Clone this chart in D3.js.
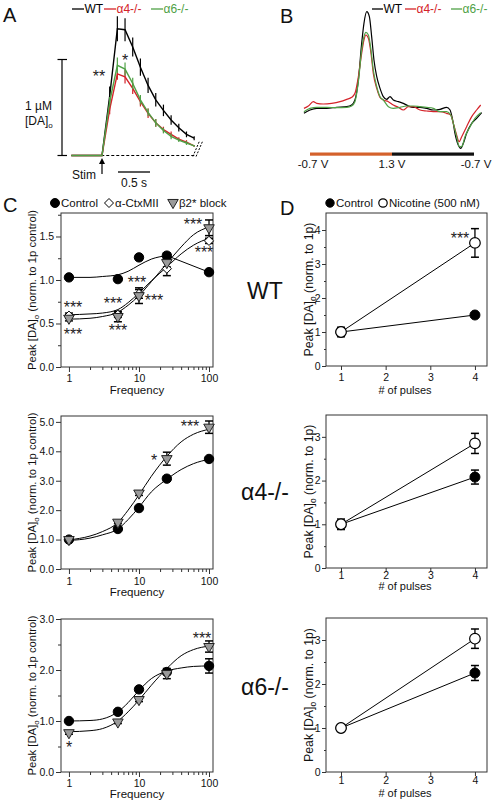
<!DOCTYPE html>
<html><head><meta charset="utf-8">
<script src="https://cdn.jsdelivr.net/npm/d3@7"></script>
<style>
body{margin:0;background:#fff}
svg{display:block}
text{font-family:"Liberation Sans",Arial,Helvetica,sans-serif;fill:#111}
</style></head>
<body><svg id="c" width="492" height="802"></svg>
<script>
// ---------------- DATA ----------------
// Panel A: [DA]o time course (µM) after single stim, 0.12 s samples
const aTime = [-0.48,-0.36,-0.24,-0.12,0,0.12,0.24,0.36,0.48,0.60,0.72,0.84,0.96,1.08,1.20,1.32,1.44];
const aWT    = [0,0,0,0,0,0.62,1.32,1.31,1.13,0.92,0.73,0.58,0.47,0.37,0.29,0.22,0.18];
const aWTerr = [0,0,0,0,0,0.10,0.13,0.12,0.10,0.09,0.08,0.07,0.06,0.05,0.04,0.03,0.02];
const aA4    = [0,0,0,0,0,0.48,0.85,0.82,0.70,0.56,0.44,0.34,0.27,0.22,0.17,0.14,0.10];
const aA4err = [0,0,0,0,0,0.05,0.06,0.07,0.06,0.05,0.05,0.04,0.03,0.03,0.02,0.02,0.01];
const aA6    = [0,0,0,0,0,0.56,0.94,0.90,0.75,0.58,0.45,0.34,0.26,0.20,0.16,0.13,0.10];
const aA6err = [0,0,0,0,0,0.05,0.08,0.07,0.06,0.05,0.04,0.04,0.03,0.03,0.02,0.02,0.01];

// Panel B: cyclic voltammograms (sweep time, ms; current, a.u.)
const bTimeWT = [-0.37,0.0,0.41,1.02,1.63,2.24,2.54,2.74,2.95,3.15,3.29,3.46,3.62,3.76,3.90,4.07,4.27,4.47,4.67,4.88,5.08,5.39,5.69,6.00,6.30,6.71,7.11,7.52,7.93,8.33,8.54,8.70,8.84,9.04,9.19,9.35,9.55,9.86,10.16,10.47];
const bWT     = [-1.5,-0.5,0,0,0.3,0.5,1.0,2.5,8.5,19.5,25.5,29,27.5,21.5,14.5,9.5,6,3.5,2.7,3.5,2.5,2,1.5,0.7,0.3,0.3,0,-0.5,-0.3,0.3,-0.5,-3.5,-7.5,-11,-12,-10.5,-7.5,-4.5,-3,-1.3];
const bTimeA4 = [-0.37,-0.10,0.20,0.41,0.81,1.32,1.83,2.24,2.54,2.74,2.95,3.15,3.29,3.41,3.56,3.72,3.86,4.07,4.27,4.47,4.78,5.08,5.39,5.69,6.00,6.30,6.71,7.11,7.52,7.93,8.33,8.58,8.74,8.94,9.09,9.25,9.55,9.86,10.16,10.41];
const bA4     = [0,0.7,2,1.5,1.3,1.5,2,2.7,3.3,4.5,9.5,16.5,20.5,22,21,16.5,10.5,6,3.3,2.5,2,1,0.3,-0.5,0.5,0.5,-0.5,-0.8,-1,-1,-1.5,-2,-4.5,-8,-10,-8.5,-5.5,-2.5,-0.5,1];
const bTimeA6 = [-0.37,0.0,0.41,1.02,1.63,2.24,2.54,2.74,2.95,3.15,3.29,3.41,3.56,3.72,3.86,4.07,4.27,4.47,4.78,5.08,5.49,5.89,6.30,6.71,7.11,7.52,7.93,8.33,8.58,8.74,8.94,9.11,9.25,9.45,9.76,10.06,10.41];
const bA6     = [-1,0,0.3,0.3,0.2,0.3,0.7,2,8,17.5,21.5,22.8,22,17.5,11.5,6.5,3.5,2.5,0.5,0,0.3,0.7,0.7,0.5,0.3,0,-1,-1,-2,-4.5,-8.5,-11.5,-11.5,-8.5,-5.5,-3,-1.3];
const bVoltLabels = ["-0.7 V","1.3 V","-0.7 V"];

// Panel C: frequency dependence
const freqs = [1,5,10,25,100];
const fitFreqs = [1,2,3,5,7,10,15,25,40,60,100];
const cWTControl = [1.03,1.01,1.26,1.28,1.09], cWTControlErr = [0.02,0.02,0.03,0.03,0.02];
const cWTCtx     = [0.59,0.60,0.84,1.13,1.45], cWTCtxErr     = [0.03,0.03,0.05,0.08,0.03];
const cWTBeta    = [0.56,0.58,0.82,1.20,1.60], cWTBetaErr    = [0.03,0.06,0.09,0.05,0.09];
const fitWTControlFreqs = [1,2,3,5,7,10,15,25];
const fitWTControl = [1.03,1.03,1.04,1.06,1.10,1.17,1.24,1.28];
const fitWTCtx  = [0.60,0.61,0.62,0.66,0.74,0.85,0.99,1.15,1.30,1.40,1.48];
const fitWTBeta = [0.55,0.56,0.58,0.63,0.71,0.82,0.98,1.19,1.38,1.52,1.61];

const cA4Control = [1.00,1.36,2.07,3.07,3.74], cA4ControlErr = [0.02,0.04,0.05,0.06,0.06];
const cA4Beta    = [1.00,1.59,2.58,3.75,4.82], cA4BetaErr    = [0.03,0.05,0.08,0.22,0.21];
const fitA4Control = [0.97,1.05,1.16,1.36,1.68,2.10,2.62,3.05,3.38,3.58,3.73];
const fitA4Beta    = [0.99,1.12,1.27,1.58,2.00,2.52,3.15,3.83,4.32,4.58,4.75];

const cA6Control = [1.00,1.18,1.62,1.96,2.08], cA6ControlErr = [0.02,0.03,0.04,0.05,0.14];
const cA6Beta    = [0.77,0.98,1.42,1.93,2.46], cA6BetaErr    = [0.03,0.03,0.04,0.10,0.11];
const fitA6Control = [1.00,1.01,1.04,1.18,1.36,1.60,1.83,1.98,2.04,2.07,2.08];
const fitA6Beta    = [0.79,0.81,0.85,1.00,1.18,1.41,1.70,2.03,2.28,2.40,2.47];

// Panel D: pulse dependence
const pulses = [1,4];
const dWTControl = [1.0,1.50], dWTControlErr = [0.05,0.05];
const dWTNic     = [1.0,3.62], dWTNicErr     = [0.14,0.42];
const dA4Control = [1.0,2.08], dA4ControlErr = [0.05,0.16];
const dA4Nic     = [1.0,2.85], dA4NicErr     = [0.12,0.23];
const dA6Control = [1.0,2.25], dA6ControlErr = [0.02,0.17];
const dA6Nic     = [1.0,3.03], dA6NicErr     = [0.02,0.22];

const genotypes = ["WT","α4-/-","α6-/-"];

// ---------------- DRAW ----------------
const RED = "#d42229", GREEN = "#4fa146", ORANGE = "#d4612b", AX = "#333";
const svg = d3.select("#c");

function text(x, y, s, size, opts = {}) {
  const t = svg.append("text").attr("x", x).attr("y", y).attr("font-size", size)
    .attr("text-anchor", opts.anchor || "start").text(s);
  if (opts.fill) t.style("fill", opts.fill);
  return t;
}
function stars(x, yc, s) { return text(x, yc + 9, s, 16, {anchor: "middle", fill: "#222"}); }
function line(x1, y1, x2, y2, stroke = "#000", w = 1, dash = null) {
  const l = svg.append("line").attr("x1", x1).attr("y1", y1).attr("x2", x2).attr("y2", y2)
    .attr("stroke", stroke).attr("stroke-width", w);
  if (dash) l.attr("stroke-dasharray", dash);
  return l;
}
function daLabel(sel, before, after, subSize) {
  sel.append("tspan").text(before);
  sel.append("tspan").attr("dy", 3).attr("font-size", subSize).text("o");
  sel.append("tspan").attr("dy", -3).text(after);
}

// ---- Panel letters ----
text(3, 22, "A", 20); text(280, 23, "B", 20); text(3, 212, "C", 20); text(280, 215, "D", 20);

// ---- Panel A ----
{
  const x = d3.scaleLinear().domain([0, 1]).range([102, 166]);
  const y = d3.scaleLinear().domain([0, 1]).range([155.5, 59.5]);
  const leg = [["WT", "#000", 72], ["α4-/-", RED, 104], ["α6-/-", GREEN, 151]];
  leg.forEach(([s, c, x0]) => { line(x0, 9, x0 + 12, 9, c, 1.3); text(x0 + 12.5, 13, s, 12, {fill: c}); });
  line(x(aTime[0]), y(0), x(aTime[aTime.length - 1]) + 1, y(0), "#000", 1, "3,2");
  line(x(1.42), y(0) + 1, x(1.52), y(0) - 14, "#000", 1, "2,1.5");
  line(x(1.47), y(0) + 1, x(1.57), y(0) - 14, "#000", 1, "2,1.5");
  const series = [[aWT, aWTerr, "#000"], [aA4, aA4err, RED], [aA6, aA6err, GREEN]];
  series.forEach(([v, e, c]) => {
    const pts = aTime.map((t, i) => [t, v[i], e[i]]);
    svg.append("path").datum(pts).attr("fill", "none").attr("stroke", c).attr("stroke-width", 1.4)
      .attr("d", d3.line().x(d => x(d[0])).y(d => y(d[1])));
    svg.append("g").selectAll("line").data(pts.filter(d => d[2] > 0)).join("line")
      .attr("x1", d => x(d[0])).attr("x2", d => x(d[0]))
      .attr("y1", d => y(d[1] - d[2])).attr("y2", d => y(d[1] + d[2]))
      .attr("stroke", c).attr("stroke-width", 1.2);
  });
  line(62, y(0), 62, y(1), "#000", 1.2);
  line(57.5, y(0), 67, y(0), "#000", 1.2);
  line(57.5, y(1), 67, y(1), "#000", 1.2);
  text(25, 110, "1 µM", 12);
  daLabel(text(25, 125, "", 12), "[DA]", "", 8);
  line(x(0), 174, x(0), 163, "#000", 1.2);
  svg.append("path").attr("d", `M${x(0) - 3},${164} L${x(0) + 3},${164} L${x(0)},${158} Z`).attr("fill", "#000");
  text(72, 179, "Stim", 12);
  line(x(0.25), 172, x(0.75), 172, "#000", 1.3);
  text(x(0.5), 187, "0.5 s", 12, {anchor: "middle"});
  stars(99, 73, "**");
  stars(125, 57, "*");
}

// ---- Panel B ----
{
  const x = d3.scaleLinear().domain([0, 10]).range([310, 474]);
  const y = d3.scaleLinear().domain([-15, 30]).range([158.33, 8.33]);
  const leg = [["WT", "#000", 372], ["α4-/-", RED, 405], ["α6-/-", GREEN, 451]];
  leg.forEach(([s, c, x0]) => { line(x0, 9, x0 + 11, 9, c, 1.3); text(x0 + 11.5, 13, s, 12, {fill: c}); });
  const lg = d3.line().x(d => x(d[0])).y(d => y(d[1])).curve(d3.curveMonotoneX);
  [[bTimeWT, bWT, "#000"], [bTimeA4, bA4, RED], [bTimeA6, bA6, GREEN]].forEach(([t, v, c]) => {
    svg.append("path").datum(t.map((tt, i) => [tt, v[i]])).attr("fill", "none")
      .attr("stroke", c).attr("stroke-width", 1.2).attr("d", lg);
  });
  svg.append("rect").attr("x", x(0)).attr("y", 152.5).attr("width", x(5) - x(0)).attr("height", 3.2).attr("fill", ORANGE);
  svg.append("rect").attr("x", x(5)).attr("y", 152.5).attr("width", x(10) - x(5)).attr("height", 3.2).attr("fill", "#111");
  [0, 5, 10].forEach((v, i) => text(x(v) + (i === 0 ? 3 : i === 2 ? 2 : 0), 168, bVoltLabels[i], 11.5, {anchor: "middle"}));
}

// ---- Generic axes ----
function frame(x, y) {
  const [x0, x1] = x.range(), [y0, y1] = y.range();
  svg.append("rect").attr("x", x0).attr("y", y1).attr("width", x1 - x0).attr("height", y0 - y1)
    .attr("fill", "none").attr("stroke", AX).attr("stroke-width", 1);
}
function styleAxis(g, size) {
  g.select(".domain").remove();
  g.selectAll("line").attr("stroke", AX);
  g.selectAll("text").attr("font-size", size).attr("font-family", null).style("fill", "#111");
  g.attr("font-family", null).attr("font-size", null);
}
function yAxis(x, y, ticks, minor, fmt, tl, pad) {
  const x0 = x.range()[0];
  const g = svg.append("g").attr("transform", `translate(${x0},0)`)
    .call(d3.axisLeft(y).tickValues(ticks).tickSize(tl).tickPadding(pad).tickFormat(fmt));
  styleAxis(g, 10.5);
  if (minor.length) {
    const m = svg.append("g").attr("transform", `translate(${x0},0)`)
      .call(d3.axisLeft(y).tickValues(minor).tickSize(tl - 2).tickFormat(""));
    styleAxis(m, 10);
  }
}
function xAxis(x, y, ticks, minor, fmt, tl, pad) {
  const y0 = y.range()[0];
  const g = svg.append("g").attr("transform", `translate(0,${y0})`)
    .call(d3.axisBottom(x).tickValues(ticks).tickSize(tl).tickPadding(pad).tickFormat(fmt));
  styleAxis(g, 10.5);
  if (minor.length) {
    const m = svg.append("g").attr("transform", `translate(0,${y0})`)
      .call(d3.axisBottom(x).tickValues(minor).tickSize(3).tickFormat(""));
    styleAxis(m, 10);
  }
}
function errBars(x, y, xs, v, e, cap = 4) {
  const g = svg.append("g");
  xs.forEach((xx, i) => {
    if (!e[i]) return;
    const px = x(xx);
    g.append("line").attr("x1", px).attr("x2", px).attr("y1", y(v[i] - e[i])).attr("y2", y(v[i] + e[i])).attr("stroke", "#000").attr("stroke-width", 1.3);
    [v[i] - e[i], v[i] + e[i]].forEach(yy => g.append("line").attr("x1", px - cap).attr("x2", px + cap)
      .attr("y1", y(yy)).attr("y2", y(yy)).attr("stroke", "#000").attr("stroke-width", 1.5));
  });
}
function marker(type, px, py, sz) {
  if (type === "circle") return svg.append("circle").attr("cx", px).attr("cy", py).attr("r", sz).attr("fill", "#000").attr("stroke", "#000");
  if (type === "open") return svg.append("circle").attr("cx", px).attr("cy", py).attr("r", sz).attr("fill", "#fff").attr("stroke", "#000").attr("stroke-width", 1.2);
  if (type === "diamond") return svg.append("path").attr("d", `M${px},${py - sz} L${px + sz},${py} L${px},${py + sz} L${px - sz},${py} Z`)
    .attr("fill", "#fff").attr("stroke", "#000").attr("stroke-width", 1);
  if (type === "tri") return svg.append("path").attr("d", d3.symbol().type(d3.symbolTriangle).size(sz)())
    .attr("transform", `translate(${px},${py}) rotate(180)`).attr("fill", "#9a9a9a").attr("stroke", "#222").attr("stroke-width", 1);
}
function curve(x, y, fx, fy, w = 1) {
  svg.append("path").datum(fx.map((f, i) => [f, fy[i]])).attr("fill", "none").attr("stroke", "#000").attr("stroke-width", w)
    .attr("d", d3.line().x(d => x(d[0])).y(d => y(d[1])).curve(d3.curveMonotoneX));
}

// ---- Panel C ----
const cPanels = [
  {top: 213, bot: 367, ymax: 1.77, ticks: [0, 0.5, 1, 1.5], minor: [0.25, 0.75, 1.25, 1.75], pad: 2.5, ftY: 394,
   ctrl: cWTControl, ctrlE: cWTControlErr, beta: cWTBeta, betaE: cWTBetaErr, ctx: cWTCtx, ctxE: cWTCtxErr,
   fitC: fitWTControl, fitCF: fitWTControlFreqs, fitB: fitWTBeta, fitX: fitWTCtx, link: true},
  {top: 416, bot: 569, ymax: 5.2, ticks: [0, 1, 2, 3, 4, 5], minor: [], pad: 3.5, ftY: 596,
   ctrl: cA4Control, ctrlE: cA4ControlErr, beta: cA4Beta, betaE: cA4BetaErr,
   fitC: fitA4Control, fitCF: fitFreqs, fitB: fitA4Beta},
  {top: 619, bot: 772, ymax: 3, ticks: [0, 1, 2, 3], minor: [0.5, 1.5, 2.5], pad: 2.5, ftY: 798,
   ctrl: cA6Control, ctrlE: cA6ControlErr, beta: cA6Beta, betaE: cA6BetaErr,
   fitC: fitA6Control, fitCF: fitFreqs, fitB: fitA6Beta}
];
const minorFreq = [2,3,4,5,6,7,8,9,20,30,40,50,60,70,80,90];
cPanels.forEach(p => {
  const x = d3.scaleLog().domain([0.77, 114]).range([61, 213]);
  const y = d3.scaleLinear().domain([0, p.ymax]).range([p.bot, p.top]);
  frame(x, y);
  yAxis(x, y, p.ticks, p.minor, d3.format(".1f"), 5, 2);
  xAxis(x, y, [1, 10, 100], minorFreq, d3.format("d"), 5, p.pad);
  text(137, p.ftY, "Frequency", 11.5, {anchor: "middle"});
  const t = svg.append("text").attr("transform", `translate(36,${(p.top + p.bot) / 2}) rotate(-90)`)
    .attr("text-anchor", "middle").attr("font-size", 11.3);
  daLabel(t, "Peak [DA]", " (norm. to 1p control)", 8);
  curve(x, y, p.fitCF, p.fitC, 1);
  if (p.link) {
    svg.append("path").datum([[25, p.ctrl[3]], [100, p.ctrl[4]]]).attr("fill", "none").attr("stroke", "#000")
      .attr("d", d3.line().x(d => x(d[0])).y(d => y(d[1])));
  }
  if (p.fitX) curve(x, y, fitFreqs, p.fitX, 1);
  curve(x, y, fitFreqs, p.fitB, 1);
  errBars(x, y, freqs, p.ctrl, p.ctrlE);
  if (p.ctx) errBars(x, y, freqs, p.ctx, p.ctxE);
  errBars(x, y, freqs, p.beta, p.betaE);
  freqs.forEach((f, i) => marker("circle", x(f), y(p.ctrl[i]), 4.7));
  if (p.ctx) freqs.forEach((f, i) => marker("diamond", x(f), y(p.ctx[i]), 4.6));
  freqs.forEach((f, i) => marker("tri", x(f), y(p.beta[i]), 48));
});
marker("circle", 55, 203, 4.5);
text(61, 207, "Control", 11.5);
marker("diamond", 109, 203, 4.5);
text(115, 207, "α-CtxMII", 11.5);
marker("tri", 173, 202.5, 48);
text(179, 207, "β2* block", 11.5);
[[73, 304, "***"], [73, 331, "***"], [113, 300, "***"], [118, 327, "***"], [137, 279, "***"], [154, 297, "***"],
 [193, 221, "***"], [204, 249, "***"], [154, 457, "*"], [190, 423, "***"], [69, 744, "*"], [202, 635, "***"]]
  .forEach(([a, b, s]) => stars(a, b, s));

// ---- Panel D ----
const dPanels = [
  {top: 213, bot: 366, ymax: 4.5, ticks: [0, 1, 2, 3, 4], minor: [0.5, 1.5, 2.5, 3.5], pad: 4, ftY: 394,
   ctrl: dWTControl, ctrlE: dWTControlErr, nic: dWTNic, nicE: dWTNicErr, gy: 299},
  {top: 415, bot: 568, ymax: 3.5, ticks: [0, 1, 2, 3], minor: [0.5, 1.5, 2.5], pad: 0, ftY: 590,
   ctrl: dA4Control, ctrlE: dA4ControlErr, nic: dA4Nic, nicE: dA4NicErr, gy: 500},
  {top: 618, bot: 772, ymax: 3.5, ticks: [0, 1, 2, 3], minor: [0.5, 1.5, 2.5], pad: 0.5, ftY: 797,
   ctrl: dA6Control, ctrlE: dA6ControlErr, nic: dA6Nic, nicE: dA6NicErr, gy: 695}
];
dPanels.forEach((p, k) => {
  const x = d3.scaleLinear().domain([0.664, 4.27]).range([326, 487]);
  const y = d3.scaleLinear().domain([0, p.ymax]).range([p.bot, p.top]);
  frame(x, y);
  yAxis(x, y, p.ticks, p.minor, d3.format("d"), 4, 1.5);
  xAxis(x, y, [1, 2, 3, 4], [], d3.format("d"), 4, p.pad);
  text(405, p.ftY, "# of pulses", 11, {anchor: "middle"});
  const t = svg.append("text").attr("transform", `translate(313,${(p.top + p.bot) / 2}) rotate(-90)`)
    .attr("text-anchor", "middle").attr("font-size", 12.3);
  daLabel(t, "Peak [DA]", " (norm. to 1p)", 8.5);
  text(265, p.gy, genotypes[k], 23, {anchor: "middle"});
  const lg = d3.line().x((d, i) => x(pulses[i])).y(d => y(d));
  svg.append("path").datum(p.ctrl).attr("fill", "none").attr("stroke", "#000").attr("d", lg);
  svg.append("path").datum(p.nic).attr("fill", "none").attr("stroke", "#000").attr("d", lg);
  errBars(x, y, pulses, p.ctrl, p.ctrlE);
  errBars(x, y, pulses, p.nic, p.nicE);
  pulses.forEach((pp, i) => marker("circle", x(pp), y(p.ctrl[i]), 5));
  pulses.forEach((pp, i) => marker("open", x(pp), y(p.nic[i]), 5.3));
});
marker("circle", 330, 203, 4.2);
text(336, 207, "Control", 11.5);
marker("open", 383, 203, 4.2);
text(389, 207, "Nicotine (500 nM)", 11.5);
stars(460, 235, "***");
</script></body></html>
